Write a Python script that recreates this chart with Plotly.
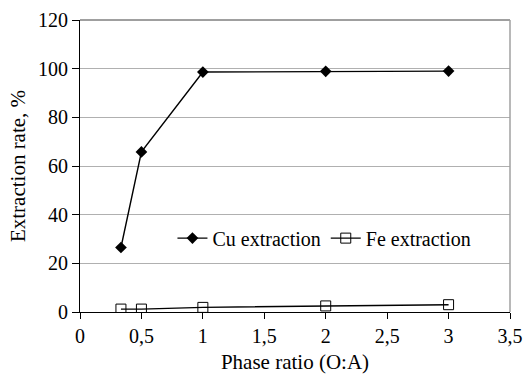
import plotly.graph_objects as go

phase_ratio = [1/3, 0.5, 1, 2, 3]
cu_extraction = [26.5, 65.8, 98.6, 98.9, 99.0]
fe_extraction = [1.2, 1.2, 1.9, 2.5, 3.0]
x_ticks = [0, 0.5, 1, 1.5, 2, 2.5, 3, 3.5]
x_tick_labels = ["0", "0,5", "1", "1,5", "2", "2,5", "3", "3,5"]
y_ticks = [0, 20, 40, 60, 80, 100, 120]

font = "Liberation Serif"

fig = go.Figure()
fig.add_trace(go.Scatter(
    x=phase_ratio, y=cu_extraction, name="Cu extraction", mode="lines+markers",
    line=dict(color="black", width=1.4),
    marker=dict(symbol="diamond", size=9, color="black"),
))
fig.add_trace(go.Scatter(
    x=phase_ratio, y=fe_extraction, name="Fe extraction", mode="lines+markers",
    line=dict(color="black", width=1.4),
    marker=dict(symbol="square-open", size=10, color="black", line=dict(width=1)),
))

fig.update_layout(
    width=524, height=377,
    margin=dict(l=80, r=14, t=20, b=65, autoexpand=False),
    paper_bgcolor="white", plot_bgcolor="white",
    font=dict(family=font, size=20, color="black"),
    showlegend=True,
    legend=dict(orientation="h", x=0.215, y=0.253, xanchor="left", yanchor="middle",
                bgcolor="rgba(0,0,0,0)", font=dict(family=font, size=20),
                itemwidth=30, tracegroupgap=0),
    xaxis=dict(range=[0, 3.5], tickvals=x_ticks, ticktext=x_tick_labels,
               showgrid=False, zeroline=False, showline=True, linecolor="black",
               linewidth=1, ticks="outside", ticklen=6, tickcolor="black",
               automargin=False, tickfont=dict(family=font, size=20),
               title=dict(text="Phase ratio (O:A)", standoff=8,
                          font=dict(family=font, size=21))),
    yaxis=dict(range=[0, 120], tickvals=y_ticks, showgrid=True, gridcolor="#b0b0b0",
               gridwidth=1, zeroline=False, showline=True, linecolor="black",
               linewidth=1, ticks="outside", ticklen=7, tickcolor="black",
               automargin=False, tickfont=dict(family=font, size=20),
               title=dict(text="Extraction rate, %", standoff=6,
                          font=dict(family=font, size=21))),
)
fig.add_shape(type="line", xref="paper", yref="paper", x0=0, x1=1, y0=1, y1=1,
              line=dict(color="#404040", width=1))
fig.add_shape(type="line", xref="paper", yref="paper", x0=1, x1=1, y0=0, y1=1,
              line=dict(color="#a0a0a0", width=1.5))

fig.write_html("out.html", config={"displayModeBar": False},
               post_script="document.body.style.margin='0';")
